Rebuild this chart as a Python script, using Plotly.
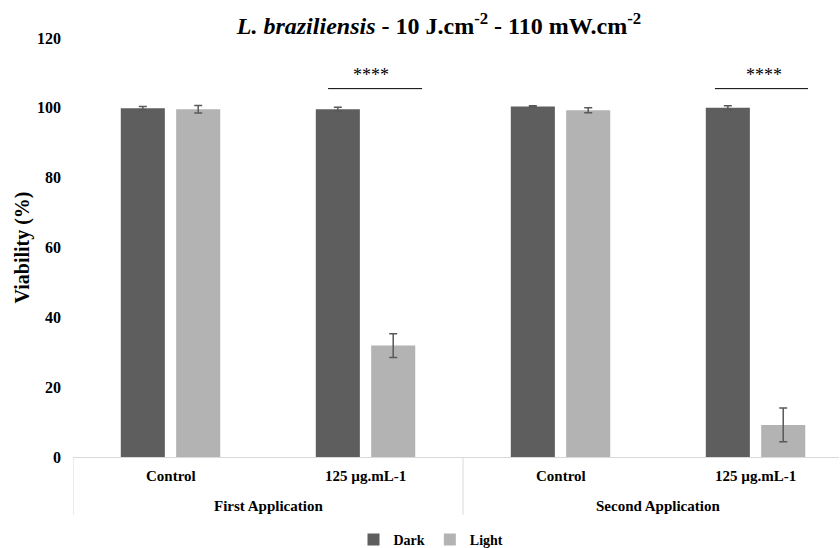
import plotly.graph_objects as go

# ---- data ----
categories = ["Control", "125 µg.mL-1", "Control", "125 µg.mL-1"]
groups = ["First Application", "Second Application"]
dark_values = [99.9, 99.6, 100.4, 100.0]
dark_errors = [0.5, 0.6, 0.2, 0.6]
light_values = [99.6, 31.9, 99.3, 9.2]
light_errors = [1.1, 3.4, 0.7, 4.8]
y_ticks = [0, 20, 40, 60, 80, 100, 120]
sig_label = "****"

FONT = "Liberation Serif"
DARK = "#5e5e5e"
LIGHT = "#b3b3b3"
ERR = "#595959"

pos = list(range(len(categories)))
off = 0.142
bw = 0.226

fig = go.Figure()
fig.add_trace(go.Bar(
    name="<b>Dark</b>", x=[p - off for p in pos], y=dark_values, width=bw,
    marker=dict(color=DARK, line=dict(width=0)),
    error_y=dict(type="data", array=dark_errors, color=ERR, thickness=1.5, width=4),
))
fig.add_trace(go.Bar(
    name="<b>Light</b>", x=[p + off for p in pos], y=light_values, width=bw,
    marker=dict(color=LIGHT, line=dict(width=0)),
    error_y=dict(type="data", array=light_errors, color=ERR, thickness=1.5, width=4),
))

# significance brackets
sig = [(0.808, 1.290, 1.028), (2.792, 3.269, 3.044)]
for x0, x1, xt in sig:
    fig.add_shape(type="line", xref="x", yref="y", x0=x0, x1=x1, y0=105.5, y1=105.5,
                  line=dict(color="black", width=1))
    fig.add_annotation(x=xt, y=109.3, xref="x", yref="y", text=sig_label, showarrow=False,
                       font=dict(family=FONT, size=18, color="black"), yanchor="middle")

# category labels
for p, c in zip(pos, categories):
    fig.add_annotation(x=p, y=-0.045, xref="x", yref="paper", text="<b>%s</b>" % c,
                       showarrow=False, font=dict(family=FONT, size=15, color="black"),
                       yanchor="middle")
for gi, g in enumerate(groups):
    fig.add_annotation(x=gi * 2 + 0.5, y=-0.117, xref="x", yref="paper", text="<b>%s</b>" % g,
                       showarrow=False, font=dict(family=FONT, size=15, color="black"),
                       yanchor="middle")
# group dividers
for xd in [-0.5, 1.5, 3.5]:
    fig.add_shape(type="line", xref="x", yref="paper", x0=xd, x1=xd, y0=0, y1=-0.138,
                  line=dict(color="#d9d9d9", width=1))

# y-axis title
fig.add_annotation(x=(22 - 73) / 766, xref="paper", y=60, yref="y", text="<b>Viability (%)</b>",
                   showarrow=False, textangle=-90, xanchor="center", yanchor="middle",
                   font=dict(family=FONT, size=20, color="black"))

fig.update_layout(
    width=840, height=548,
    margin=dict(l=73, r=1, t=38, b=91, autoexpand=False),
    paper_bgcolor="white", plot_bgcolor="white",
    barmode="overlay",
    title=dict(
        text="<b><i>L. braziliensis</i> - 10 J.cm<sup>-2</sup> - 110 mW.cm<sup>-2</sup></b>",
        x=439 / 840, xanchor="center", xref="container",
        y=1 - 26 / 548, yanchor="middle", yref="container",
        font=dict(family=FONT, size=24, color="black"),
    ),
    xaxis=dict(range=[-0.5, 3.428], showticklabels=False, showgrid=False, zeroline=False,
               showline=True, linecolor="#d9d9d9", linewidth=1, ticks="", automargin=False),
    yaxis=dict(range=[0, 120], tickvals=y_ticks, ticktext=["<b>%d</b>" % v for v in y_ticks],
               showgrid=False, zeroline=False, automargin=False,
               showline=False, ticks="", ticklabelstandoff=11,
               tickfont=dict(family=FONT, size=16, color="black")),
    legend=dict(orientation="h", x=(431 - 73) / 766, xanchor="center", xref="paper",
                y=(457 - 540) / 419, yanchor="middle", yref="paper",
                font=dict(family=FONT, size=14, color="black"),
                itemwidth=30, traceorder="normal", bgcolor="rgba(0,0,0,0)"),
    showlegend=True,
)

fig.write_html("out.html", config={"displayModeBar": False},
               post_script="document.body.style.margin='0';document.body.style.padding='0';")
